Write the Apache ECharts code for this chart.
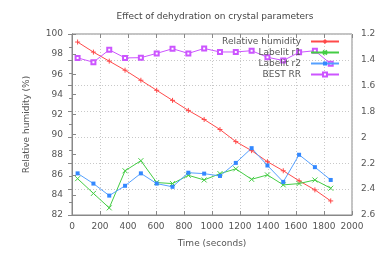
<!DOCTYPE html>
<html><head><meta charset="utf-8">
<script src="https://cdn.jsdelivr.net/npm/echarts@6/dist/echarts.min.js"></script>
<style>html,body{margin:0;padding:0;background:#fff}#c{width:380px;height:253px}</style>
</head><body><div id="c"></div>
<script>
var times = [40, 153, 266, 379, 492, 605, 718, 831, 944, 1057, 1170, 1283, 1396, 1509, 1622, 1735, 1848];
var humidity = [99.2, 98.2, 97.3, 96.4, 95.4, 94.4, 93.4, 92.4, 91.5, 90.5, 89.3, 88.4, 87.3, 86.4, 85.4, 84.5, 83.4];
var labelitR1 = [2.319, 2.433, 2.545, 2.258, 2.18, 2.349, 2.357, 2.293, 2.329, 2.28, 2.243, 2.324, 2.29, 2.367, 2.357, 2.329, 2.393];
var labelitR2 = [2.278, 2.357, 2.45, 2.374, 2.278, 2.357, 2.382, 2.273, 2.28, 2.298, 2.197, 2.083, 2.217, 2.344, 2.134, 2.23, 2.329];
var bestRR = [1.385, 1.418, 1.322, 1.385, 1.383, 1.35, 1.314, 1.35, 1.312, 1.339, 1.339, 1.329, 1.38, 1.405, 1.342, 1.329, 1.431];

function pairs(ys){ return times.map(function(t,i){ return [t, ys[i]]; }); }
var FONT = 'DejaVu Sans';
var TXT = '#555';
var AX = '#888';
var plus = 'path://M0,5L10,5M5,0L5,10';
var cross = 'path://M0,0L10,10M10,0L0,10';

var chart = echarts.init(document.getElementById('c'), null, {renderer:'canvas'});
chart.setOption({
  animation: false,
  title: {text: 'Effect of dehydration on crystal parameters', left: 210, textAlign: 'center', top: 7,
          textStyle: {fontFamily: FONT, fontSize: 9, fontWeight: 'normal', color: '#444'}},
  legend: {orient: 'vertical', right: 40, top: 37, align: 'right', itemWidth: 28, itemHeight: 5, itemGap: 2,
           textStyle: {fontFamily: FONT, fontSize: 9, color: TXT, padding: [0, 5, 0, 0]}, padding: 0},
  grid: {left: 72, right: 28, top: 34, bottom: 35, show: true, borderColor: AX, borderWidth: 1, backgroundColor: 'transparent'},
  xAxis: [{
    type: 'value', min: 0, max: 2000, interval: 200,
    name: 'Time (seconds)', nameLocation: 'middle', nameGap: 24,
    nameTextStyle: {fontFamily: FONT, fontSize: 9, color: TXT},
    axisLine: {show: true, lineStyle: {color: AX}},
    axisTick: {show: true, inside: true, length: 4, lineStyle: {color: AX}},
    axisLabel: {fontFamily: FONT, fontSize: 9, color: TXT, margin: 7, formatter: function(v){ return String(v); }},
    splitLine: {show: true, lineStyle: {color: '#c8c8c8', type: [1, 2], width: 1}}
  }, {
    type: 'value', min: 0, max: 2000, interval: 200, position: 'top',
    axisLine: {show: false}, axisLabel: {show: false}, splitLine: {show: false},
    axisTick: {show: true, inside: true, length: 4, lineStyle: {color: AX}}
  }],
  yAxis: [{
    type: 'value', min: 82, max: 100, interval: 2,
    name: 'Relative humidity (%)', nameLocation: 'middle', nameGap: 41,
    nameTextStyle: {fontFamily: FONT, fontSize: 9, color: TXT},
    axisLine: {show: true, lineStyle: {color: AX}},
    axisTick: {show: true, inside: true, length: 4, lineStyle: {color: AX}},
    axisLabel: {fontFamily: FONT, fontSize: 9, color: TXT, margin: 9},
    splitLine: {show: false}
  }, {
    type: 'value', min: 1.2, max: 2.6, interval: 0.2, inverse: true, position: 'right',
    axisLine: {show: true, lineStyle: {color: AX}},
    axisTick: {show: true, inside: true, length: 4, lineStyle: {color: AX}},
    minorTick: {show: true, splitNumber: 2, length: 3, lineStyle: {color: AX}},
    axisLabel: {fontFamily: FONT, fontSize: 9, color: TXT, margin: 9},
    splitLine: {show: true, lineStyle: {color: '#c8c8c8', type: [1, 2], width: 1}}
  }],
  series: [
    {name: 'Relative humidity', type: 'line', yAxisIndex: 0, data: pairs(humidity),
     symbol: plus, symbolSize: 5, lineStyle: {color: '#ff4a4a', width: 1},
     itemStyle: {color: '#ff4a4a', borderColor: '#ff4a4a', borderWidth: 1}},
    {name: 'Labelit r1', type: 'line', yAxisIndex: 1, data: pairs(labelitR1),
     symbol: cross, symbolSize: 5, lineStyle: {color: '#44cc44', width: 1},
     itemStyle: {color: '#44cc44', borderColor: '#44cc44', borderWidth: 1}},
    {name: 'Labelit r2', type: 'line', yAxisIndex: 1, data: pairs(labelitR2),
     symbol: 'rect', symbolSize: 4, lineStyle: {color: '#55a0ff', width: 1},
     itemStyle: {color: '#3388ff'}},
    {name: 'BEST RR', type: 'line', yAxisIndex: 1, data: pairs(bestRR),
     symbol: 'emptyRect', symbolSize: 4, lineStyle: {color: '#cc55ff', width: 1},
     itemStyle: {color: '#cc55ff', borderColor: '#cc55ff', borderWidth: 1}}
  ]
});
</script></body></html>
